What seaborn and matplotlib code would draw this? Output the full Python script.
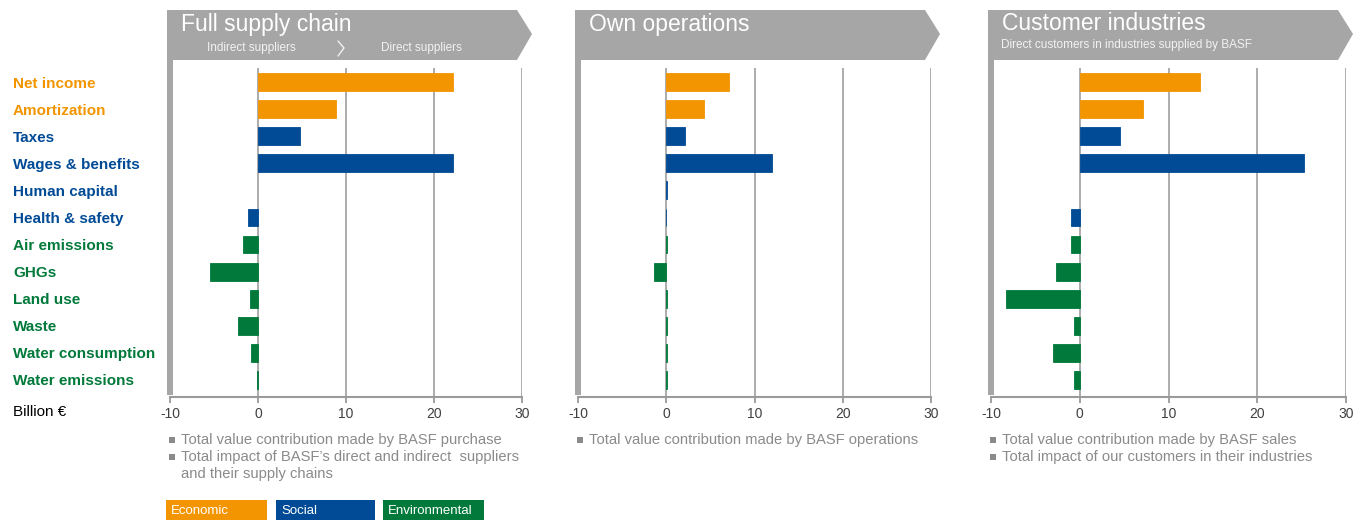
import matplotlib
matplotlib.use("Agg")
import matplotlib.pyplot as plt
from matplotlib.patches import Polygon, Rectangle
import seaborn as sns
import pandas as pd

sns.set_theme(style="white")
plt.rcParams['font.family'] = ['Liberation Sans', 'DejaVu Sans']

categories = ['Net income', 'Amortization', 'Taxes', 'Wages & benefits', 'Human capital',
              'Health & safety', 'Air emissions', 'GHGs', 'Land use', 'Waste',
              'Water consumption', 'Water emissions']
groups = ['Economic', 'Economic', 'Social', 'Social', 'Social', 'Social',
          'Environmental', 'Environmental', 'Environmental', 'Environmental',
          'Environmental', 'Environmental']
group_order = ['Economic', 'Social', 'Environmental']
group_colors = ['#F39500', '#004A96', '#00793A']

supply_chain = [22.2, 8.9, 4.8, 22.2, 0.0, -1.1, -1.7, -5.4, -0.9, -2.3, -0.8, -0.15]
own_operations = [7.1, 4.3, 2.1, 12.0, 0.1, -0.05, 0.05, -1.4, 0.05, 0.05, 0.05, 0.05]
customer_industries = [13.5, 7.1, 4.5, 25.3, 0.0, -1.0, -1.0, -2.7, -8.3, -0.7, -3.0, -0.7]

panel_titles = ['Full supply chain', 'Own operations', 'Customer industries']
x_ticks = [-10, 0, 10, 20, 30]

footnotes = [
    ['Total value contribution made by BASF purchase',
     "Total impact of BASF\u2019s direct and indirect  suppliers\nand their supply chains"],
    ['Total value contribution made by BASF operations'],
    ['Total value contribution made by BASF sales',
     'Total impact of our customers in their industries'],
]

W, H = 1359, 520
GREY = '#A6A6A6'
AX_GREY = '#9A9A9A'
NOTE_GREY = '#8A8A8A'


def rect(l, t, r, b):
    return [l / W, 1 - b / H, (r - l) / W, (b - t) / H]


fig = plt.figure(figsize=(W / 100, H / 100), dpi=100)

# overlay axes in pixel coordinates for the decoration
ov = fig.add_axes([0, 0, 1, 1], zorder=0)
ov.set_xlim(0, W)
ov.set_ylim(H, 0)
ov.axis('off')

panel_x = [(170, 522), (578, 931), (991, 1346)]
values = [supply_chain, own_operations, customer_industries]
colors = dict(zip(group_order, group_colors))

for i, ((left, right), vals) in enumerate(zip(panel_x, values)):
    ax = fig.add_axes(rect(left, 68, right, 397), zorder=1)
    ax.patch.set_alpha(0)
    df = pd.DataFrame({'category': categories, 'value': vals, 'group': groups})
    sns.barplot(data=df, x='value', y='category', hue='group', hue_order=group_order,
                palette=group_colors, saturation=1, dodge=False, legend=False,
                width=0.66, orient='h', ax=ax, zorder=3)
    # edges in the bar colour so tiny values still show as thin lines
    for p in ax.patches:
        if p.get_width() == 0:
            p.set_visible(False)
        p.set_edgecolor(p.get_facecolor())
        p.set_linewidth(0.6)
    ax.set_xlim(-10, 30)
    ax.set_ylim(11.63, -0.52)
    for gx in [0, 10, 20, 30]:
        ax.axvline(gx, color=GREY, lw=1.3, zorder=1)
    ax.set_xticks(x_ticks)
    ax.set_xticklabels([str(t) for t in x_ticks])
    ax.tick_params(axis='x', direction='out', length=4, width=1.3, color=AX_GREY,
                   labelsize=10, labelcolor='#404040', pad=3, bottom=True)
    for side in ['top', 'right', 'left']:
        ax.spines[side].set_visible(False)
    ax.spines['bottom'].set_color(AX_GREY)
    ax.spines['bottom'].set_linewidth(1.5)
    ax.set_xlabel('')
    ax.set_ylabel('')
    if i == 0:
        ax.set_yticks(range(len(categories)))
        ax.set_yticklabels(categories)
        ax.tick_params(axis='y', length=0, pad=113, labelsize=11)
        for lab, g in zip(ax.get_yticklabels(), groups):
            lab.set_ha('left')
            lab.set_color(colors[g])
            lab.set_fontweight('bold')
    else:
        ax.set_yticks([])

    # header arrow and thick left bar
    hl = left - 3
    body_r = hl + 350
    ov.add_patch(Polygon([(hl, 10), (body_r, 10), (body_r + 15, 34), (body_r, 60), (hl, 60)],
                         closed=True, facecolor=GREY, edgecolor='none'))
    ov.add_patch(Rectangle((hl, 60), 6, 335, facecolor=GREY, edgecolor='none'))
    ov.text(hl + 14, 24, panel_titles[i], color='white', fontsize=16.5,
            ha='left', va='center')

    # footnotes with square bullets
    y = 440
    for note in footnotes[i]:
        ov.add_patch(Rectangle((hl + 2, y - 3), 6, 6, facecolor=NOTE_GREY, edgecolor='none'))
        lines = note.split('\n')
        for j, line in enumerate(lines):
            ov.text(hl + 14, y + 17 * j, line, color=NOTE_GREY, fontsize=10.6,
                    ha='left', va='center')
        y += 17 * len(lines)

# header subtitles
ov.text(207, 48, 'Indirect suppliers', color='#F2F2F2', fontsize=8.5, ha='left', va='center')
ov.plot([338, 344, 338], [41, 48, 56], color='#F2F2F2', lw=1)
ov.text(381, 48, 'Direct suppliers', color='#F2F2F2', fontsize=8.5, ha='left', va='center')
ov.text(1001, 45, 'Direct customers in industries supplied by BASF', color='#F2F2F2',
        fontsize=8.5, ha='left', va='center')

ov.text(13, 412, 'Billion \u20ac', color='black', fontsize=11, ha='left', va='center')

# colour legend boxes
for (l, r), name, c in zip([(166, 267), (276, 375), (383, 484)], group_order, group_colors):
    ov.add_patch(Rectangle((l, 500), r - l, 20, facecolor=c, edgecolor='none'))
    ov.text(l + 5, 511, name, color='white', fontsize=9.5, ha='left', va='center')

fig.savefig('out.png', dpi=100)
